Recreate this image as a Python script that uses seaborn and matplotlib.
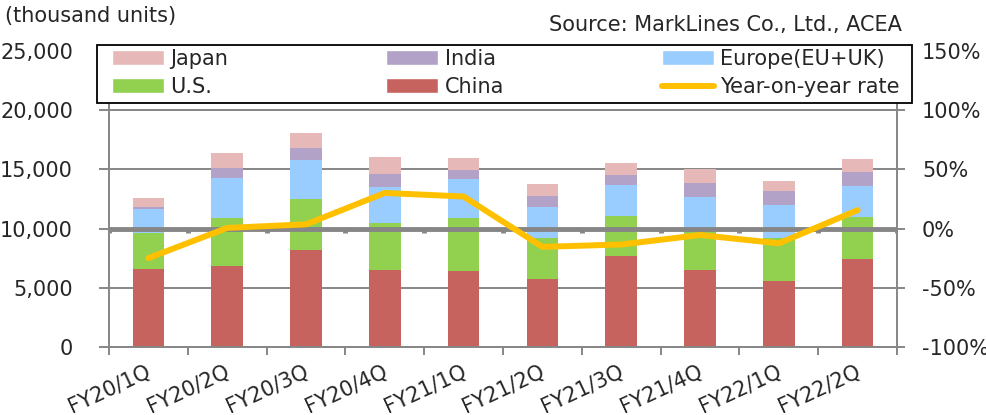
import numpy as np
import pandas as pd
import matplotlib
matplotlib.use("Agg")
import matplotlib.pyplot as plt
import matplotlib.transforms as mtransforms
from matplotlib.patches import Patch, Rectangle
from matplotlib.lines import Line2D
import seaborn as sns

# Quarterly new-vehicle sales by region (thousand units)
quarters = ["FY20/1Q", "FY20/2Q", "FY20/3Q", "FY20/4Q", "FY21/1Q",
            "FY21/2Q", "FY21/3Q", "FY21/4Q", "FY22/1Q", "FY22/2Q"]
china = [6590, 6870, 8170, 6500, 6420, 5740, 7660, 6530, 5550, 7430]
us = [3010, 4030, 4330, 4000, 4500, 3490, 3430, 3320, 3690, 3550]
europe = [2050, 3400, 3290, 2990, 3290, 2590, 2560, 2790, 2760, 2620]
india = [150, 820, 1040, 1150, 760, 930, 900, 1240, 1130, 1210]
japan = [810, 1240, 1240, 1430, 1010, 990, 980, 1180, 870, 1070]
# Year-on-year change of the total (%)
yoy_rate = [-25, 0.5, 3.5, 30, 27, -15.5, -13.5, -5.5, -12.5, 15.5]

sns.set_theme(style="white")
plt.rcParams["font.family"] = ["DejaVu Sans"]

GRAY = "#868686"
FS = 15
colors = {
    "China": "#C6635F",
    "U.S.": "#92D050",
    "Europe(EU+UK)": "#99CCFF",
    "India": "#B3A2C7",
    "Japan": "#E6B9B8",
}
line_color = "#FFC000"

df = pd.DataFrame({
    "quarter": quarters,
    "China": china,
    "U.S.": us,
    "Europe(EU+UK)": europe,
    "India": india,
    "Japan": japan,
})
layers = ["China", "U.S.", "Europe(EU+UK)", "India", "Japan"]
cum = df[layers].cumsum(axis=1)

fig = plt.figure(figsize=(9.86, 4.15), dpi=100)
ax = fig.add_axes([109 / 986, 1 - 347 / 415, 788 / 986, 296.25 / 415])
ax2 = ax.twinx()

# Stacked bars: draw cumulative totals from the top layer down
for name in reversed(layers):
    sns.barplot(x=df["quarter"], y=cum[name], color=colors[name], width=0.4,
                saturation=1, ax=ax, zorder=2, edgecolor="none")

ax.set_ylim(0, 25000)
ax.set_xlim(-0.5, len(quarters) - 0.5)
ax.set_yticks(range(0, 25001, 5000))
ax.set_yticklabels([f"{v:,}" for v in range(0, 25001, 5000)])
ax.yaxis.grid(True, color=GRAY, lw=1.4)
ax.xaxis.grid(False)
ax.set_axisbelow(True)
ax.set_xlabel("")
ax.set_ylabel("")

ax.set_xticks(np.arange(len(quarters)))
ax.set_xticklabels(quarters, rotation=25, ha="right", rotation_mode="anchor")
ax.set_xticks(np.arange(-0.5, len(quarters), 1), minor=True)
ax.tick_params(axis="x", which="major", length=0, pad=10, labelsize=FS)
ax.tick_params(axis="x", which="minor", length=6, width=1.4, color=GRAY,
               direction="out", bottom=True)
ax.tick_params(axis="y", length=7, width=1.4, color=GRAY, direction="out",
               pad=19, labelsize=FS, left=True)
shift = mtransforms.ScaledTranslation(-3 / 100, 0, fig.dpi_scale_trans)
for lbl in ax.get_xticklabels():
    lbl.set_transform(lbl.get_transform() + shift)

for side in ["left", "bottom"]:
    ax.spines[side].set_color(GRAY)
    ax.spines[side].set_linewidth(1.4)
ax.spines["top"].set_visible(False)
ax.spines["right"].set_visible(False)

# Secondary axis: year-on-year rate
ax2.set_ylim(-100, 150)
ax2.set_yticks(range(-100, 151, 50))
ax2.set_yticklabels([f"{v}%" for v in range(-100, 151, 50)])
ax2.tick_params(axis="y", length=6, width=1.4, color=GRAY, direction="out",
                pad=12, labelsize=FS, right=True)
ax2.grid(False)
for side in ["left", "top", "bottom"]:
    ax2.spines[side].set_visible(False)
ax2.spines["right"].set_color(GRAY)
ax2.spines["right"].set_linewidth(1.4)

ax2.axhline(0, color=GRAY, lw=3.5, zorder=3)
ax2.vlines(np.arange(-0.5, len(quarters), 1), -3.8, 0, color=GRAY, lw=3.5, zorder=3)

sns.lineplot(x=np.arange(len(quarters)), y=yoy_rate, ax=ax2, color=line_color,
             lw=4.3, zorder=4, solid_capstyle="round")
ax2.set_xlim(-0.5, len(quarters) - 0.5)
ax2.set_ylabel("")

# Legend box
fig.add_artist(Rectangle((97 / 986, 1 - 103 / 415), 815 / 986, 58 / 415,
                         transform=fig.transFigure, facecolor="white",
                         edgecolor="black", lw=1.3, zorder=4))
handles = [
    Patch(facecolor=colors["Japan"]), Patch(facecolor=colors["U.S."]),
    Patch(facecolor=colors["India"]), Patch(facecolor=colors["China"]),
    Patch(facecolor=colors["Europe(EU+UK)"]),
    Line2D([0], [0], color=line_color, lw=4.3, solid_capstyle="round"),
]
labels = ["Japan", "U.S.", "India", "China", "Europe(EU+UK)", "Year-on-year rate"]
leg = fig.legend(handles, labels, ncol=3, loc="upper left",
                 bbox_to_anchor=(112 / 986, 1 - 53 / 415, 788 / 986, 0.01),
                 mode="expand", borderaxespad=0, borderpad=0, frameon=False,
                 fontsize=FS, handlelength=2.5, handleheight=0.72,
                 handletextpad=0.3, labelspacing=0.4, columnspacing=1.0)
leg.set_zorder(5)

fig.text(5 / 986, 1 - 22 / 415, "(thousand units)", ha="left", va="baseline",
         fontsize=FS)
fig.text(902 / 986, 1 - 31 / 415, "Source: MarkLines Co., Ltd., ACEA",
         ha="right", va="baseline", fontsize=FS)

fig.savefig("out.png", dpi=100)
